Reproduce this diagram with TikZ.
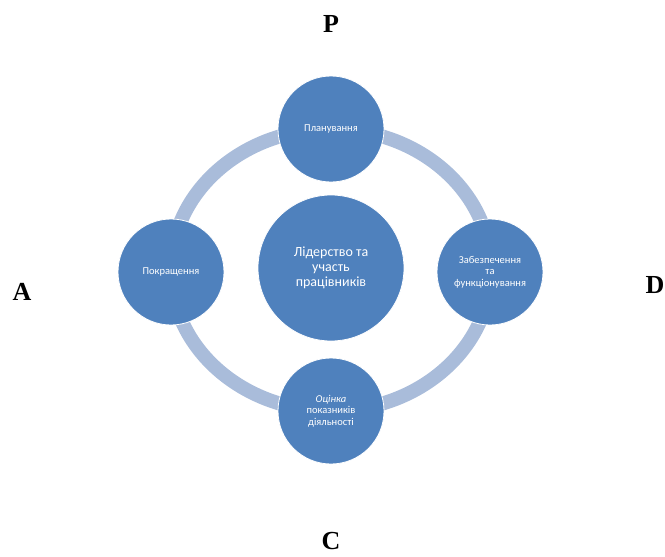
\documentclass[tikz,border=0pt]{standalone}
\usepackage{fontspec}
\setmainfont{Liberation Serif}
\newfontfamily\cyclefont{Carlito}
\definecolor{circblue}{HTML}{4F81BD}
\definecolor{ringblue}{HTML}{A9BCDA}
\tikzset{
  stage/.style={circle,fill=circblue,draw=white,line width=0.8pt,minimum size=106pt,
    inner sep=0pt,align=center,text=white,font=\cyclefont\fontsize{10.5}{11.5}\selectfont},
  corelabel/.style={stage,minimum size=146pt,font=\cyclefont\fontsize{14}{15}\selectfont},
  sidelabel/.style={font=\bfseries\fontsize{26}{30}\selectfont}
}
\begin{document}
\begin{tikzpicture}[x=1pt,y=-1pt]
  \useasboundingbox (0,0) rectangle (665,557);

  % ring behind the stages
  \draw[ringblue,line width=14pt] (331,270) ellipse [x radius=160,y radius=141];

  \node[corelabel] (lead) at (331,268) {Лідерство та\\участь\\працівників};

  \node[stage] (plan)    at (331,129) {Планування};
  \node[stage] (support) at (490,272) {Забезпечення\\та\\функціонування};
  \node[stage] (eval)    at (331,411) {\itshape Оцінка\\показників\\діяльності};
  \node[stage] (improve) at (171,272) {Покращення};

  \node[sidelabel] (p) at (331,24)  {P};
  \node[sidelabel] (d) at (655,285) {D};
  \node[sidelabel] (c) at (331,541) {C};
  \node[sidelabel] (a) at (22,292)  {A};
\end{tikzpicture}
\end{document}
